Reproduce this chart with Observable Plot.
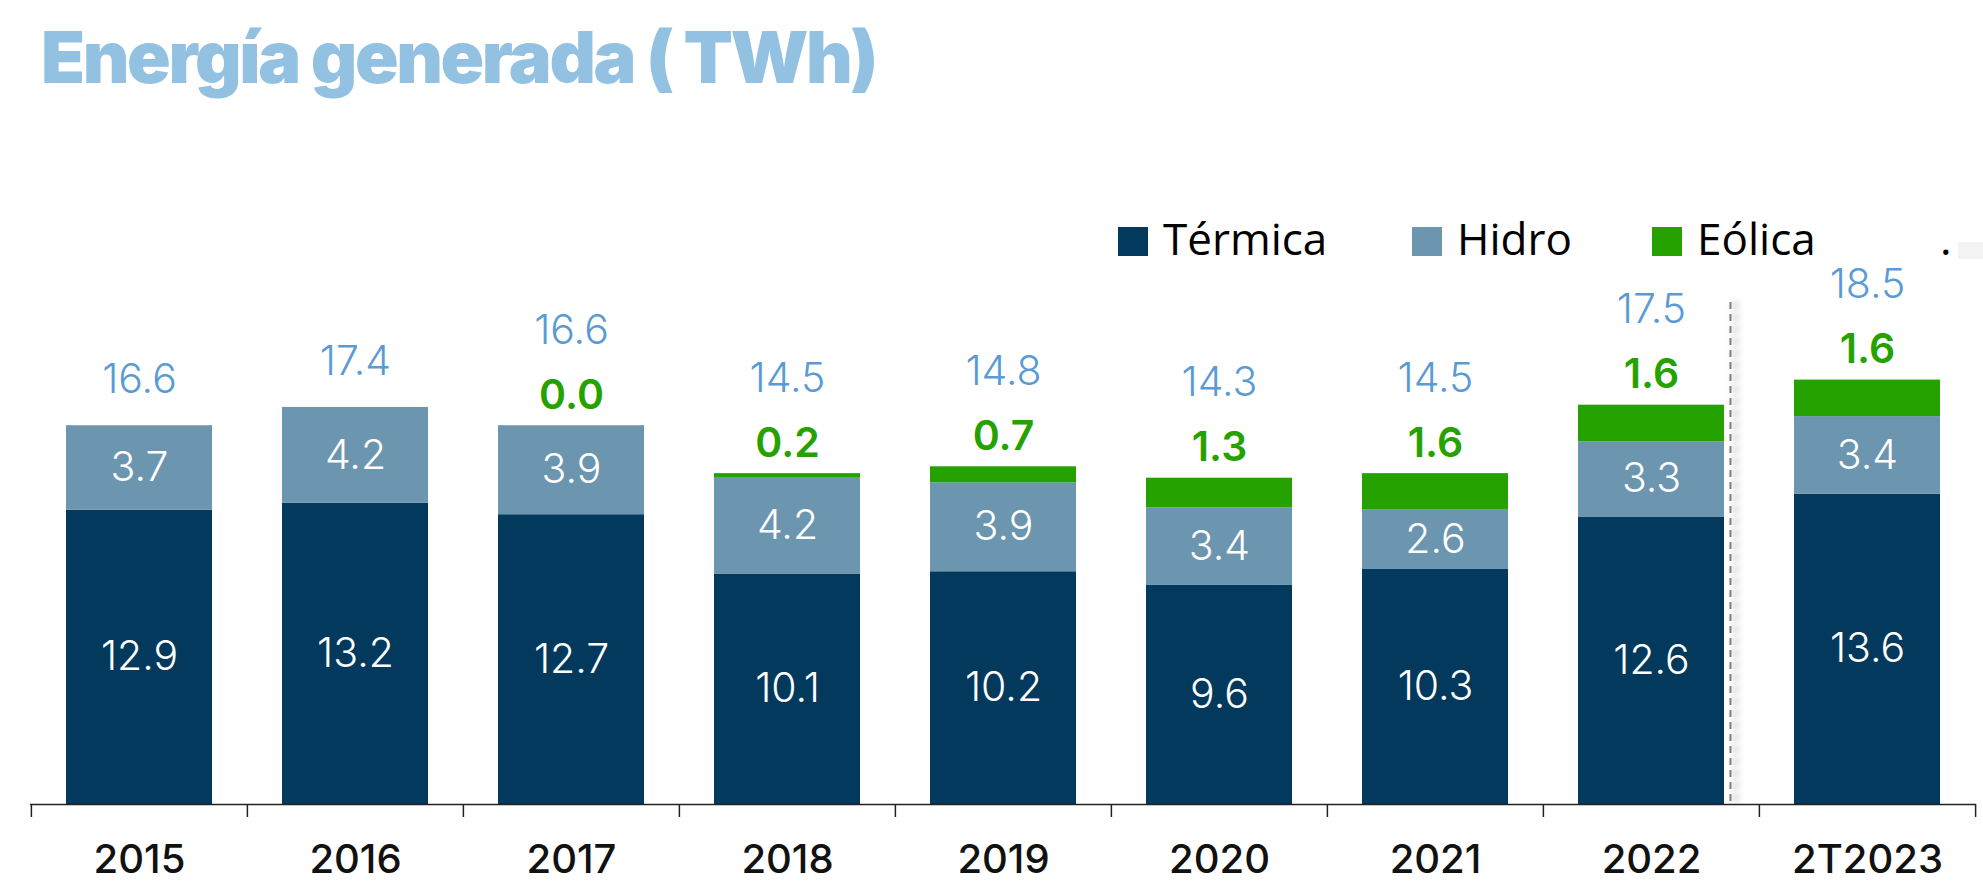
<!DOCTYPE html>
<html>
<head>
<meta charset="utf-8">
<script src="https://cdn.jsdelivr.net/npm/d3@7"></script>
<script src="https://cdn.jsdelivr.net/npm/@observablehq/plot@0.6"></script>
<style>
  html, body { margin: 0; padding: 0; background: #fff; }
  body { width: 1983px; height: 882px; overflow: hidden; font-family: Inter, sans-serif; }
  #header { position: relative; height: 270px; }
  #title { position: absolute; left: 41px; top: 21px; font-family: Inter, sans-serif; font-weight: 900;
           font-size: 72px; line-height: 1; color: #92C1E2; white-space: nowrap; }
  .sw { position: absolute; top: 227px; width: 30px; height: 29px; }
  .lt { position: absolute; top: 216px; font-family: "Open Sans", sans-serif; font-size: 44px; line-height: 1; color: #000; white-space: nowrap; }
  #dotbox { position: absolute; left: 1958px; top: 242px; width: 25px; height: 17px; background: #f3f3f3; }
  #chart svg { display: block; overflow: visible; }
  .shadow { filter: blur(3px); }
</style>
</head>
<body>
<div id="header">
  <div id="title"></div>
  <div id="legend"></div>
</div>
<div id="chart"></div>
<script>
// ---- data ----
const titleText = "Energía generada ( TWh)";
const years   = ["2015", "2016", "2017", "2018", "2019", "2020", "2021", "2022", "2T2023"];
const termica = [12.9, 13.2, 12.7, 10.1, 10.2, 9.6, 10.3, 12.6, 13.6];
const hidro   = [3.7, 4.2, 3.9, 4.2, 3.9, 3.4, 2.6, 3.3, 3.4];
const eolica  = [null, null, 0.0, 0.2, 0.7, 1.3, 1.6, 1.6, 1.6];
const totals  = [16.6, 17.4, 16.6, 14.5, 14.8, 14.3, 14.5, 17.5, 18.5];
const series  = ["Térmica", "Hidro", "Eólica"];
const colors  = ["#02395C", "#6C95AF", "#26A200"];

// ---- title ----
const titleEl = document.getElementById("title");
titleEl.textContent = titleText;
const w0 = titleEl.getBoundingClientRect().width;
titleEl.style.letterSpacing = ((835 - w0) / titleText.length) + "px";

// ---- legend (HTML) ----
const legend = document.getElementById("legend");
const swLeft = [1118, 1412, 1652];
series.forEach((s, i) => {
  const sw = document.createElement("div");
  sw.className = "sw"; sw.style.left = swLeft[i] + "px"; sw.style.background = colors[i];
  legend.appendChild(sw);
  const t = document.createElement("div");
  t.className = "lt"; t.style.left = (swLeft[i] + 45) + "px"; t.textContent = s;
  legend.appendChild(t);
});
const dot = document.createElement("div");
dot.className = "lt"; dot.style.left = "1940px"; dot.textContent = ".";
legend.appendChild(dot);
const box = document.createElement("div"); box.id = "dotbox"; legend.appendChild(box);

// ---- tables ----
const rows = years.flatMap((y, i) => [
  {year: y, serie: "Térmica", value: termica[i]},
  {year: y, serie: "Hidro", value: hidro[i]},
  {year: y, serie: "Eólica", value: eolica[i] ?? 0}
]);
const tops = years.map((y, i) => ({
  year: y,
  top: termica[i] + hidro[i] + (eolica[i] ?? 0),
  eol: eolica[i],
  total: totals[i]
}));

const W = 1983, H = 612, ML = 30, MR = 7, MT = 32, MB = 78;
const pIn = 0.325, pOut = 0.1625;
const step = (W - ML - MR) / (years.length - pIn + 2 * pOut);
const bw = step * (1 - pIn);

const chart = Plot.plot({
  width: W, height: H,
  marginLeft: ML, marginRight: MR, marginTop: MT, marginBottom: MB,
  x: {domain: years, paddingInner: pIn, paddingOuter: pOut, label: null},
  y: {domain: [0, 22], axis: null},
  color: {domain: series, range: colors},
  style: {fontFamily: "Inter, sans-serif", background: "transparent", overflow: "visible"},
  marks: [
    Plot.barY(rows, {x: "year", y: "value", z: "serie", fill: "serie"}),
    Plot.text(rows.filter(d => d.serie !== "Eólica"),
      Plot.stackY({x: "year", y: "value", z: "serie", text: d => d.value.toFixed(1),
                   fill: "#ffffff", fontSize: 41, fontWeight: 300})),
    Plot.text(tops.filter(d => d.eol != null), {x: "year", y: "top", text: d => d.eol.toFixed(1),
      dy: -30, fill: "#26A200", fontSize: 41, fontWeight: 600}),
    Plot.text(tops.filter(d => d.eol != null), {x: "year", y: "top", text: d => d.total.toFixed(1),
      dy: -95, fill: "#5B9BD5", fontSize: 41, fontWeight: 300}),
    Plot.text(tops.filter(d => d.eol == null), {x: "year", y: "top", text: d => d.total.toFixed(1),
      dy: -46, fill: "#5B9BD5", fontSize: 41, fontWeight: 300}),
    // dashed separator with soft shadow
    Plot.ruleX([years[years.length - 2]], {x: d => d, dx: bw / 2 + 11, stroke: "#000", strokeOpacity: 0.18,
      strokeWidth: 6, strokeDasharray: "7,5", className: "shadow"}),
    Plot.ruleX([years[years.length - 2]], {x: d => d, dx: bw / 2 + 6, stroke: "#7f7f7f",
      strokeWidth: 2, strokeDasharray: "7,5"}),
    // axis line and boundary ticks
    Plot.ruleY([0], {stroke: "#222", strokeWidth: 1.5}),
    Plot.ruleX(years, {x: d => d, y1: 0, y2: 0, dx: -step / 2, insetBottom: -13, stroke: "#222", strokeWidth: 1.5}),
    Plot.ruleX([years[years.length - 1]], {x: d => d, y1: 0, y2: 0, dx: step / 2, insetBottom: -13, stroke: "#222", strokeWidth: 1.5}),
    Plot.axisX({tickSize: 0, tickPadding: 40, fontSize: 40, fontWeight: 500, fill: "#111", label: null})
  ]
});
document.getElementById("chart").appendChild(chart);
</script>
</body>
</html>
